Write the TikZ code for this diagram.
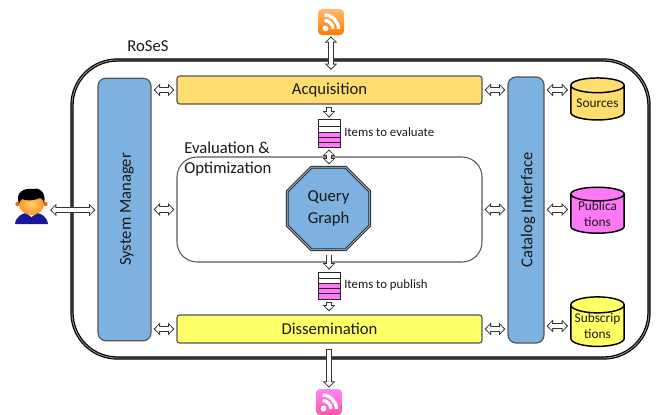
\documentclass[tikz,border=0pt]{standalone}
\usepackage{fontspec}
\setmainfont{Carlito}
\usetikzlibrary{shapes.geometric,arrows.meta,calc}
\definecolor{acqc}{HTML}{FFDD6E}
\definecolor{disc}{HTML}{FFFF66}
\definecolor{bluec}{HTML}{7DB2E0}
\definecolor{magc}{HTML}{FF78F5}
\definecolor{edgec}{HTML}{555555}
\newcommand{\pxu}{0.75pt}
\tikzset{
  bigtext/.style={font=\fontsize{12.5}{15}\selectfont,text=black!90},
  midtext/.style={font=\fontsize{10}{11.6}\selectfont,text=black!90,align=center},
  smalltext/.style={font=\fontsize{9.6}{11}\selectfont,text=black!90,anchor=west,inner sep=0pt},
  barbox/.style={draw=edgec,line width=0.9pt,rounded corners=2pt,inner sep=0pt},
  tallbox/.style={draw=edgec,line width=0.9pt,fill=bluec,rounded corners=6pt,inner sep=0pt},
  dbcyl/.style={cylinder,shape border rotate=90,aspect=0.35,draw=black,line width=1.1pt,
     cylinder uses custom fill,inner sep=0pt,minimum width=40pt,minimum height=31.5pt},
  fatboth/.style 2 args={draw=black!80,line width=4.6pt,line join=miter,
     {Triangle[length=4.8pt,width=9.2pt]}-{Triangle[length=4.8pt,width=9.2pt]},
     shorten <=#1*\pxu,shorten >=#2*\pxu,
     postaction={draw=white,line width=3.2pt,
       {Triangle[length=2.9pt,width=6.2pt]}-{Triangle[length=2.9pt,width=6.2pt]},
       shorten <=#1*\pxu+1.15pt,shorten >=#2*\pxu+1.15pt}},
  fatone/.style 2 args={draw=black!80,line width=4.6pt,line join=miter,
     -{Triangle[length=4.8pt,width=9.2pt]},
     shorten <=#1*\pxu,shorten >=#2*\pxu,
     postaction={draw=white,line width=3.2pt,
       -{Triangle[length=2.9pt,width=6.2pt]},
       shorten <=#1*\pxu+0.7pt,shorten >=#2*\pxu+1.15pt}},
  rssicon/.style={rounded corners=3pt,minimum size=19.5pt,inner sep=0pt},
}
\newcommand{\rsswaves}[1]{%
  \begin{scope}[shift={(#1.center)}]
    \fill[white] (-5.5,6.5) circle (2.9);
    \draw[white,line width=2.5pt] (-6.5,-1.5) arc[start angle=-90,end angle=0,radius=8.5];
    \draw[white,line width=2.5pt] (-6.5,-7) arc[start angle=-90,end angle=0,radius=14];
  \end{scope}}
\begin{document}
\begin{tikzpicture}[x=0.75pt,y=-0.75pt]
\useasboundingbox (0,0) rectangle (659,414);
% outer frame
\draw[draw=black,line width=0.9pt,double=black!45,double distance=0.7pt,rounded corners=34pt] (72,60) rectangle (649,358);
\node[anchor=center,bigtext] (title) at (148,46) {RoSeS};
% main blocks
\node[tallbox,minimum width=39.75pt,minimum height=197pt] (sm) at (124.5,209.5) {};
\node[bigtext,rotate=90] (smt) at (127,209.5) {System Manager};
\node[tallbox,minimum width=27pt,minimum height=199.5pt] (ci) at (526,210) {};
\node[bigtext,rotate=90] (cit) at (528,210) {Catalog Interface};
\node[barbox,fill=acqc,minimum width=228.75pt,minimum height=21pt,bigtext] (acq) at (329.5,90) {\raisebox{-1pt}{Acquisition}};
\node[barbox,fill=disc,minimum width=228.75pt,minimum height=21pt,bigtext] (dis) at (329.5,329) {\raisebox{-0.7pt}{Dissemination}};
\node[draw=black!65,line width=0.8pt,fill=white,rounded corners=15pt,minimum width=228.75pt,minimum height=78.75pt,inner sep=0pt] (eval) at (329.5,209.5) {};
\node[bigtext,anchor=west,inner sep=0pt] (evt1) at (184,148) {Evaluation \&};
\node[bigtext,anchor=west,inner sep=0pt] (evt2) at (184,169) {Optimization};
\node[regular polygon,regular polygon sides=8,draw=black!85,line width=0.8pt,double=bluec!60,double distance=0.5pt,fill=bluec,minimum size=67pt,inner sep=0pt,bigtext,align=center] (qg) at (328.5,208.5) {Query\\[2pt]Graph};
% item stacks
\foreach \n/\ya/\yb/\ft in {a/119/126/white,b/126/132/white,c/132/137/magc,d/137/142/magc,e/142/147/magc,
                            f/272/278/white,g/278/283/white,h/283/288/magc,i/288/293/magc,j/293/299/magc}{
  \draw[draw=black!85,line width=0.7pt,fill=\ft] (318,\ya) rectangle (340,\yb);
}
\node[draw=black!85,line width=0.7pt,minimum width=16.5pt,minimum height=21pt,inner sep=0pt] (st1) at (329,133) {};
\node[draw=black!85,line width=0.7pt,minimum width=16.5pt,minimum height=20.25pt,inner sep=0pt] (st2) at (329,285.5) {};
\node[smalltext] (st1t) at (344,132) {Items to evaluate};
\node[smalltext] (st2t) at (344,285) {Items to publish};
% databases
\node[dbcyl,cylinder body fill=acqc,cylinder end fill=acqc,midtext] (src) at (597.5,103) {Sources};
\node[dbcyl,cylinder body fill=magc,cylinder end fill=magc,midtext] (pub) at (597.5,214) {Publica\\tions};
\node[dbcyl,cylinder body fill=disc,cylinder end fill=disc,midtext] (sub) at (597.5,326) {Subscrip\\tions};
% rss icons
\node[rssicon,top color=orange!55,bottom color=orange!95!red] (rsst) at (331,22) {};
\rsswaves{rsst}
\begin{scope}
\clip (300,380) rectangle (360,414);
\node[rssicon,top color=magc!90,bottom color=magc!70!red] (rssb) at (329,402) {};
\rsswaves{rssb}
\end{scope}
% person
\node[inner sep=0pt,minimum width=24.75pt,minimum height=27pt] (person) at (31.5,206) {};
\coordinate (personport) at (49,210);
\fill[blue!55!black!90] (15,224) .. controls (16,216) and (22,213) .. (31.5,212) .. controls (41,213) and (47,216) .. (48,224) -- cycle;
\fill[white] (25,212) -- (31.5,217) -- (38,212) -- cycle;
\fill[orange!90!black] (17.5,204) circle (2.2) (45.5,204) circle (2.2);
\shade[inner color=yellow!40!orange!60,outer color=orange!85] (31.5,204) ellipse (12.5 and 11);
\fill[black] (19,204) .. controls (15,192) and (24,188) .. (32,189) .. controls (38,187) and (47,191) .. (44,204) .. controls (43.5,200) and (42,198) .. (40,198) .. controls (33,201) and (26,201) .. (22,199) .. controls (20.5,200) and (19.5,202) .. (19,204) -- cycle;
% connectors
\draw[fatboth={1}{5.5}] (rsst.south) -- (rsst.south |- acq.north);
\draw[fatone={2}{1}] (acq.south -| st1.north) -- (st1.north);
\draw[fatboth={2}{-8}] (st1.south) -- (st1.south |- eval.north);
\draw[fatone={-8}{2}] (st2.north |- eval.south) -- (st2.north);
\draw[fatone={3}{3}] (st2.south) -- (st2.south |- dis.north);
\draw[fatone={5}{1}] (rssb.north |- dis.south) -- (rssb.north);
\draw[fatboth={1}{2}] (personport) -- (sm.west |- personport);
\draw[fatboth={2}{2}] (sm.east |- eval.west) -- (eval.west);
\draw[fatboth={2}{2}] (sm.east |- acq.west) -- (acq.west);
\draw[fatboth={2}{2}] (sm.east |- dis.west) -- (dis.west);
\draw[fatboth={2}{2}] (acq.east) -- (ci.west |- acq.east);
\draw[fatboth={2}{2}] (eval.east) -- (ci.west |- eval.east);
\draw[fatboth={2}{2}] (dis.east) -- (ci.west |- dis.east);
\draw[fatboth={2}{2}] (ci.east |- acq.east) -- (src.west |- acq.east);
\draw[fatboth={2}{2}] (ci.east |- eval.east) -- (pub.west |- eval.east);
\draw[fatboth={2}{2}] (ci.east |- sub.west) -- (sub.west);
\end{tikzpicture}
\end{document}
